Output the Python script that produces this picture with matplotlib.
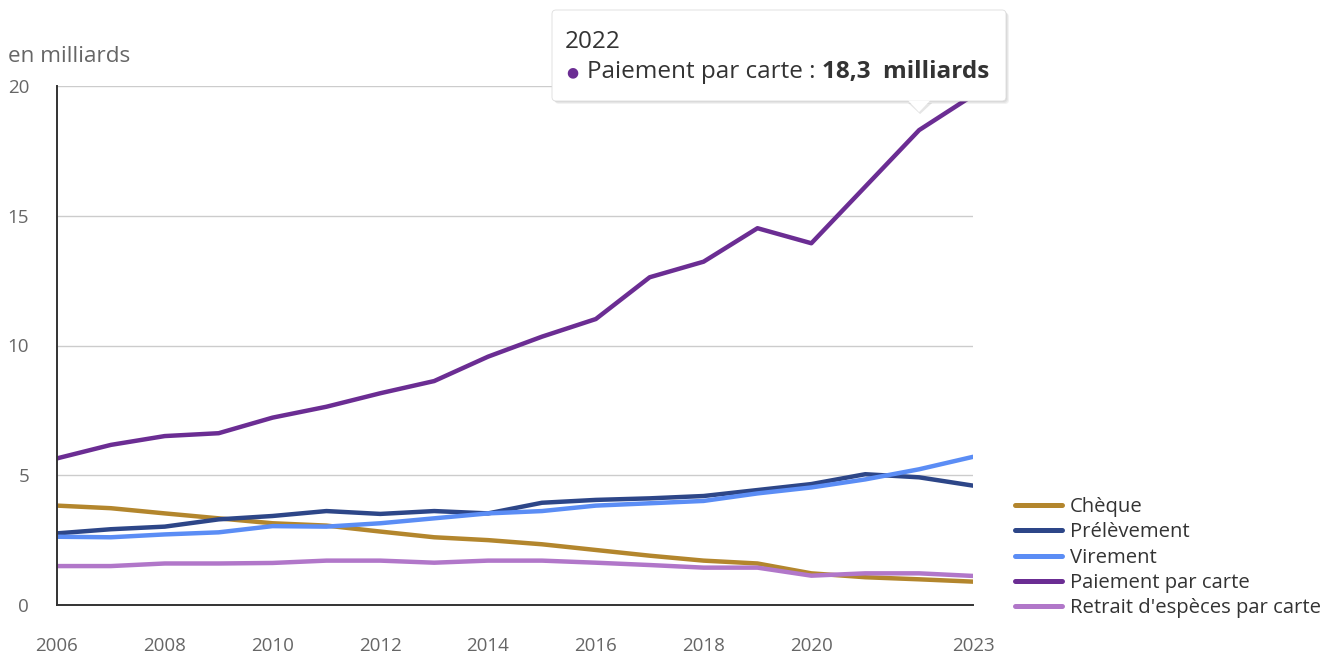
import matplotlib
matplotlib.use("Agg")
import matplotlib.pyplot as plt
from matplotlib.patches import FancyBboxPatch, Polygon

plt.rcParams['font.family'] = ['Open Sans', 'DejaVu Sans']

years = list(range(2006, 2024))
cheque = [3.83, 3.73, 3.53, 3.34, 3.15, 3.06, 2.83, 2.61, 2.50, 2.34, 2.12, 1.90, 1.71, 1.60, 1.22, 1.07, 0.99, 0.90]
prelevement = [2.76, 2.92, 3.02, 3.30, 3.43, 3.62, 3.51, 3.62, 3.53, 3.94, 4.05, 4.11, 4.20, 4.43, 4.66, 5.04, 4.92, 4.60]
virement = [2.63, 2.61, 2.72, 2.80, 3.04, 3.02, 3.15, 3.34, 3.53, 3.62, 3.83, 3.92, 4.01, 4.30, 4.53, 4.84, 5.23, 5.71]
carte = [5.65, 6.17, 6.51, 6.62, 7.22, 7.64, 8.16, 8.63, 9.57, 10.34, 11.02, 12.63, 13.23, 14.52, 13.94, 16.12, 18.30, 19.64]
retrait = [1.50, 1.50, 1.60, 1.60, 1.62, 1.71, 1.71, 1.63, 1.71, 1.71, 1.63, 1.54, 1.44, 1.44, 1.13, 1.22, 1.22, 1.12]

series_names = ["Chèque", "Prélèvement", "Virement", "Paiement par carte", "Retrait d'espèces par carte"]
series_values = [cheque, prelevement, virement, carte, retrait]
colors = ["#b3862d", "#2d4688", "#5b8df5", "#6b2d93", "#b177c9"]

xticks = [2006, 2008, 2010, 2012, 2014, 2016, 2018, 2020, 2023]
yticks = [0, 5, 10, 15, 20]
tooltip_year = 2022
tooltip_series = 3

W, H = 1338, 653
fig = plt.figure(figsize=(W / 100, H / 100), dpi=100)
ax = fig.add_axes([57 / W, 48 / H, 916 / W, 519 / H])

for name, vals, c in zip(series_names, series_values, colors):
    ax.plot(years, vals, color=c, lw=3.2, label=name, solid_capstyle='round', solid_joinstyle='round', zorder=3)

ax.set_xlim(2006, 2023)
ax.set_ylim(0, 20)
ax.set_xticks(xticks)
ax.set_xticklabels([str(x) for x in xticks])
ax.set_yticks(yticks)
ax.set_yticklabels([str(y) for y in yticks])
ax.tick_params(axis='both', length=0, labelsize=13.5, labelcolor='#666666')
ax.tick_params(axis='x', pad=23)
ax.tick_params(axis='y', pad=20)
for lab in ax.get_yticklabels():
    lab.set_horizontalalignment('right')
ax.grid(axis='y', color='#cccccc', lw=1.0, zorder=0)
ax.grid(axis='x', visible=False)
for s in ['top', 'right']:
    ax.spines[s].set_visible(False)
for s in ['left', 'bottom']:
    ax.spines[s].set_color('#333333')
    ax.spines[s].set_linewidth(1.4)
    ax.spines[s].set_zorder(4)

fig.text(8 / W, 1 - 57 / H, "en milliards", fontsize=16.2, color='#666666', ha='left', va='center')

leg = ax.legend(loc='upper left', bbox_to_anchor=(1015 / W, 1 - 497 / H), bbox_transform=fig.transFigure,
                frameon=False, fontsize=14.6, handlelength=2.32, handletextpad=0.38, labelspacing=0.265,
                borderaxespad=0, borderpad=0)
for t in leg.get_texts():
    t.set_color('#333333')
for l in leg.get_lines():
    l.set_linewidth(3.6)

# Tooltip
idx = years.index(tooltip_year)
val = series_values[tooltip_series][idx]
fig.canvas.draw()
px, py = ax.transData.transform((tooltip_year, val))
tip_y = py + 18
bx0, by0, bx1, by1 = 552, H - 101, 1006, H - 10
shadows = []
for i, a in enumerate([0.05, 0.05, 0.05]):
    shadows.append(FancyBboxPatch((bx0 + 1 + i, by0 - 1 - i), bx1 - bx0, by1 - by0,
                                  boxstyle="round,pad=0,rounding_size=4", transform=None,
                                  fc='#000000', ec='none', alpha=a, zorder=9))
box = FancyBboxPatch((bx0, by0), bx1 - bx0, by1 - by0,
                     boxstyle="round,pad=0,rounding_size=4", transform=None,
                     fc='white', ec='#dddddd', lw=0.6, zorder=10)
fig.patches.extend(shadows + [box])
tri = Polygon([(px - 11, by0 + 0.5), (px + 11, by0 + 0.5), (px, tip_y)], closed=True, transform=None,
              fc='white', ec='none', zorder=11)
tri_sh = Polygon([(px - 11, by0 - 2), (px + 13, by0 - 2), (px + 1, tip_y - 2)], closed=True, transform=None,
                 fc='#000000', ec='none', alpha=0.10, zorder=9)
fig.patches.extend([tri_sh, tri])

fig.text(565 / W, 1 - 42 / H, str(tooltip_year), fontsize=17.5, color='#333333', ha='left', va='center', zorder=12)
fig.text(566 / W, 1 - 72 / H, "●", fontsize=10, color=colors[tooltip_series], ha='left', va='center', zorder=12,
         family=['DejaVu Sans'])
valstr = f"{val:.1f}".replace('.', ',')
t1 = fig.text(587 / W, 1 - 72 / H, f"{series_names[tooltip_series]} : ", fontsize=17.5, color='#333333',
              ha='left', va='center', zorder=12)
fig.canvas.draw()
bb = t1.get_window_extent()
fig.text(bb.x1 / W, 1 - 72 / H, f"{valstr}  milliards", fontsize=17.5, color='#333333', fontweight='bold',
         ha='left', va='center', zorder=12)

fig.savefig("out.png", dpi=100)
